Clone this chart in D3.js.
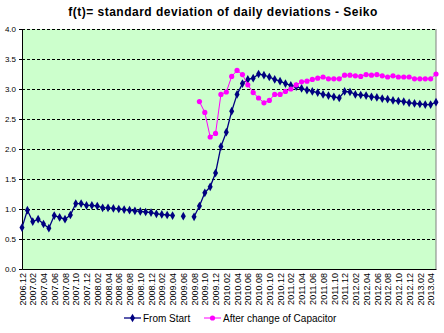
<!DOCTYPE html>
<html>
<head>
<meta charset="utf-8">
<script src="https://cdn.jsdelivr.net/npm/d3@7"></script>
<style>
  body { margin: 0; background: #fff; }
  svg { font-family: Arial, "Liberation Sans", sans-serif; }
</style>
</head>
<body>
<div id="chart"></div>
<script>
const months = [
  '2006.12',
  '2007.01','2007.02','2007.03','2007.04','2007.05','2007.06','2007.07','2007.08','2007.09','2007.10','2007.11','2007.12',
  '2008.01','2008.02','2008.03','2008.04','2008.05','2008.06','2008.07','2008.08','2008.09','2008.10','2008.11','2008.12',
  '2009.01','2009.02','2009.03','2009.04','2009.05','2009.06','2009.07','2009.08','2009.09','2009.10','2009.11','2009.12',
  '2010.01','2010.02','2010.03','2010.04','2010.05','2010.06','2010.07','2010.08','2010.09','2010.10','2010.11','2010.12',
  '2011.01','2011.02','2011.03','2011.04','2011.05','2011.06','2011.07','2011.08','2011.09','2011.10','2011.11','2011.12',
  '2012.01','2012.02','2012.03','2012.04','2012.05','2012.06','2012.07','2012.08','2012.09','2012.10','2012.11','2012.12',
  '2013.01','2013.02','2013.03','2013.04','2013.05'
];

const fromStart = [
  0.69, 0.98, 0.79, 0.83, 0.75, 0.68, 0.89, 0.86, 0.83, 0.90, 1.09, 1.09, 1.06,
  1.06, 1.05, 1.02, 1.02, 1.01, 1.00, 0.99, 0.98, 0.97, 0.96, 0.95, 0.94,
  0.92, 0.91, 0.90, 0.89, null, 0.88, null, 0.87, 1.05, 1.27, 1.37, 1.60,
  2.04, 2.28, 2.63, 2.91, 3.09, 3.16, 3.18, 3.25, 3.23, 3.20, 3.16, 3.13,
  3.09, 3.06, 3.04, 3.01, 2.98, 2.96, 2.94, 2.91, 2.89, 2.87, 2.85, 2.96,
  2.95, 2.91, 2.90, 2.89, 2.87, 2.86, 2.84, 2.83, 2.81, 2.80, 2.79, 2.77,
  2.76, 2.75, 2.74, 2.74, 2.78
];

const afterCapacitor = [
  null, null, null, null, null, null, null, null, null, null, null, null, null,
  null, null, null, null, null, null, null, null, null, null, null, null,
  null, null, null, null, null, null, null, null, 2.79, 2.61, 2.20, 2.26,
  2.91, 2.95, 3.21, 3.31, 3.24, 3.07, 2.94, 2.85, 2.77, 2.81, 2.91, 2.91,
  2.96, 3.00, 3.07, 3.12, 3.13, 3.16, 3.18, 3.20, 3.17, 3.17, 3.17, 3.23,
  3.23, 3.22, 3.21, 3.24, 3.23, 3.24, 3.22, 3.20, 3.22, 3.20, 3.20, 3.20,
  3.17, 3.17, 3.17, 3.17, 3.25
];

const yTicks = [0, 0.5, 1, 1.5, 2, 2.5, 3, 3.5, 4];
const seriesNames = ['From Start', 'After change of Capacitor'];

const width = 444, height = 333;
const margin = {top: 29, right: 8, bottom: 64, left: 22};

const svg = d3.select('#chart').append('svg')
  .attr('width', width)
  .attr('height', height);

const x = d3.scalePoint()
  .domain(months)
  .range([margin.left, width - margin.right])
  .padding(0);

const y = d3.scaleLinear()
  .domain([0, 4])
  .range([height - margin.bottom, margin.top]);

// plot background
svg.append('rect')
  .attr('x', margin.left)
  .attr('y', margin.top)
  .attr('width', width - margin.right - margin.left)
  .attr('height', height - margin.bottom - margin.top)
  .attr('fill', '#ccffcc');

// right border of plot area
svg.append('line')
  .attr('x1', width - margin.right).attr('x2', width - margin.right)
  .attr('y1', margin.top).attr('y2', height - margin.bottom)
  .attr('stroke', '#808080');

// dashed gridlines
svg.append('g')
  .selectAll('line')
  .data(yTicks.filter(d => d > 0))
  .enter()
  .append('line')
  .attr('x1', margin.left)
  .attr('x2', width - margin.right)
  .attr('y1', d => Math.round(y(d)) + 0.5)
  .attr('y2', d => Math.round(y(d)) + 0.5)
  .attr('stroke', '#000')
  .attr('stroke-dasharray', '3,2');

// y axis
const yAxis = svg.append('g')
  .attr('transform', `translate(${margin.left},0)`)
  .call(d3.axisLeft(y).tickValues(yTicks).tickFormat(d3.format('.1f')).tickSize(3).tickPadding(3));
yAxis.select('.domain').attr('stroke', '#000');
yAxis.selectAll('text').attr('font-size', 8).attr('fill', '#000');

// x axis
const xAxis = svg.append('g')
  .attr('transform', `translate(0,${height - margin.bottom})`)
  .call(d3.axisBottom(x).tickValues(months.filter((m, i) => i % 2 === 0)).tickSize(0).tickPadding(4));
xAxis.select('.domain').attr('stroke', '#000');
xAxis.selectAll('text')
  .attr('font-size', 9)
  .attr('fill', '#000')
  .attr('transform', 'rotate(-90)')
  .attr('text-anchor', 'end')
  .attr('dy', '0.35em')
  .attr('x', -4)
  .attr('y', 0);

const line = d3.line()
  .defined(d => d != null)
  .x((d, i) => x(months[i]))
  .y(d => y(d));

const diamond = d3.symbol().type(d3.symbolDiamond).size(22);

// From Start series
svg.append('path')
  .datum(fromStart)
  .attr('fill', 'none')
  .attr('stroke', '#000080')
  .attr('stroke-width', 1.3)
  .attr('d', line);

svg.append('g')
  .selectAll('path')
  .data(fromStart.map((v, i) => ({m: months[i], v: v})).filter(d => d.v != null))
  .enter()
  .append('path')
  .attr('d', diamond)
  .attr('transform', d => `translate(${x(d.m)},${y(d.v)})`)
  .attr('fill', '#000080');

// After change of Capacitor series
svg.append('path')
  .datum(afterCapacitor)
  .attr('fill', 'none')
  .attr('stroke', '#ff00ff')
  .attr('stroke-width', 1)
  .attr('d', line);

svg.append('g')
  .selectAll('circle')
  .data(afterCapacitor.map((v, i) => ({m: months[i], v: v})).filter(d => d.v != null))
  .enter()
  .append('circle')
  .attr('cx', d => x(d.m))
  .attr('cy', d => y(d.v))
  .attr('r', 2.6)
  .attr('fill', '#ff00ff');

// title
svg.append('text')
  .attr('x', 223)
  .attr('y', 16)
  .attr('text-anchor', 'middle')
  .attr('font-size', 12)
  .attr('font-weight', 'bold')
  .attr('letter-spacing', 0.5)
  .text('f(t)= standard deviation of daily deviations - Seiko');

// legend
const legend = svg.append('g').attr('transform', 'translate(124,318)');
const legendX = [0, 80];
const legendColor = ['#000080', '#ff00ff'];
seriesNames.forEach((name, i) => {
  const g = legend.append('g').attr('transform', `translate(${legendX[i]},0)`);
  g.append('line')
    .attr('x1', 0).attr('x2', 17)
    .attr('stroke', legendColor[i])
    .attr('stroke-width', i === 0 ? 1.3 : 1);
  if (i === 0) {
    g.append('path').attr('d', diamond).attr('transform', 'translate(8.5,0)').attr('fill', legendColor[i]);
  } else {
    g.append('circle').attr('cx', 8.5).attr('r', 2.6).attr('fill', legendColor[i]);
  }
  g.append('text')
    .attr('x', 19)
    .attr('dy', '0.35em')
    .attr('font-size', 10)
    .text(name);
});
</script>
</body>
</html>
